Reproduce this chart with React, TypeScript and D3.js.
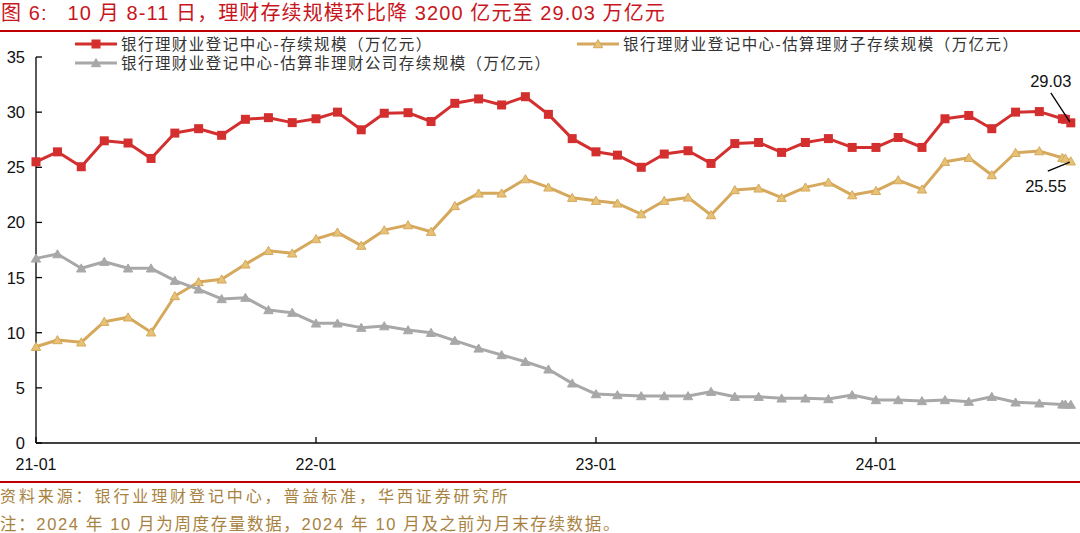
import React from "react";
import * as d3 from "d3";

const months: string[] = [
  "2021-01","2021-02","2021-03","2021-04","2021-05","2021-06","2021-07","2021-08","2021-09","2021-10","2021-11","2021-12",
  "2022-01","2022-02","2022-03","2022-04","2022-05","2022-06","2022-07","2022-08","2022-09","2022-10","2022-11","2022-12",
  "2023-01","2023-02","2023-03","2023-04","2023-05","2023-06","2023-07","2023-08","2023-09","2023-10","2023-11","2023-12",
  "2024-01","2024-02","2024-03","2024-04","2024-05","2024-06","2024-07","2024-08","2024-09",
];
const weeks: string[] = ["2024-10-04", "2024-10-11"];

const totalScale: number[] = [
  25.5, 26.4, 25.05, 27.4, 27.2, 25.8, 28.1, 28.5, 27.9, 29.35, 29.5, 29.05,
  29.4, 30.0, 28.4, 29.9, 29.95, 29.15, 30.8, 31.2, 30.65, 31.4, 29.8, 27.6,
  26.4, 26.1, 25.0, 26.2, 26.5, 25.35, 27.15, 27.25, 26.35, 27.25, 27.6, 26.8,
  26.8, 27.7, 26.8, 29.4, 29.7, 28.5, 30.0, 30.05, 29.4,
  29.35, 29.03,
];
const subsidiaryScale: number[] = [
  8.73, 9.34, 9.13, 11.0, 11.4, 10.04, 13.33, 14.6, 14.84, 16.2, 17.43, 17.2,
  18.5, 19.1, 17.9, 19.3, 19.76, 19.16, 21.5, 22.64, 22.64, 23.93, 23.18, 22.24,
  21.97, 21.73, 20.76, 21.97, 22.27, 20.67, 22.94, 23.09, 22.24, 23.18, 23.63, 22.48,
  22.87, 23.84, 23.0, 25.5, 25.87, 24.3, 26.32, 26.47, 25.87,
  25.8, 25.55,
];
const nonSubsidiaryScale: number[] = [
  16.74, 17.13, 15.84, 16.44, 15.84, 15.84, 14.72, 13.93, 13.06, 13.18, 12.06, 11.82,
  10.85, 10.85, 10.46, 10.6, 10.24, 10.0, 9.28, 8.58, 7.98, 7.37, 6.68, 5.41,
  4.44, 4.35, 4.26, 4.26, 4.26, 4.65, 4.2, 4.2, 4.05, 4.05, 3.99, 4.35,
  3.9, 3.9, 3.81, 3.9, 3.75, 4.2, 3.69, 3.6, 3.5,
  3.5, 3.48,
];

const seriesNames: string[] = [
  "银行理财业登记中心-存续规模（万亿元）",
  "银行理财业登记中心-估算理财子存续规模（万亿元）",
  "银行理财业登记中心-估算非理财公司存续规模（万亿元）",
];
const yTicks: number[] = [0, 5, 10, 15, 20, 25, 30, 35];
const xTickLabels: string[] = ["2021-01", "2022-01", "2023-01", "2024-01"];
const annotations: string[] = ["29.03", "25.55"];

const titleText = "图 6:   10 月 8-11 日，理财存续规模环比降 3200 亿元至 29.03 万亿元";
const sourceText = "资料来源：银行业理财登记中心，普益标准，华西证券研究所";
const noteText = "注：2024 年 10 月为周度存量数据，2024 年 10 月及之前为月末存续数据。";

const W = 1080;
const H = 533;
const FONT = "'Liberation Sans', Arial, 'Noto Sans CJK SC', sans-serif";

const monthEnd = (s: string) => {
  const [y, m] = s.split("-").map(Number);
  return new Date(y, m, 0);
};
const parseDay = d3.timeParse("%Y-%m-%d");
const dates: Date[] = [...months.map(monthEnd), ...weeks.map((w) => parseDay(w) as Date)];

const x = d3.scaleTime().domain([new Date(2021, 0, 31), new Date(2024, 9, 23)]).range([36, 1080]);
const y = d3.scaleLinear().domain([0, 35]).range([443, 57]);

const RED = "#d42f2f";
const GOLD = "#d6a85c";
const GOLD_FILL = "#e6c277";
const GRAY = "#a8a8a8";

type S = { name: string; values: number[]; color: string; fill: string; marker: "square" | "triangle" };
const series: S[] = [
  { name: seriesNames[0], values: totalScale, color: RED, fill: RED, marker: "square" },
  { name: seriesNames[1], values: subsidiaryScale, color: GOLD, fill: GOLD_FILL, marker: "triangle" },
  { name: seriesNames[2], values: nonSubsidiaryScale, color: GRAY, fill: GRAY, marker: "triangle" },
];

const tri = d3.symbol().type(d3.symbolTriangle).size(38)() as string;

function Marker({ s, cx, cy }: { s: S; cx: number; cy: number }) {
  if (s.marker === "square") {
    return <rect x={cx - 4.5} y={cy - 4.5} width={9} height={9} fill={s.fill} />;
  }
  return <path d={tri} transform={`translate(${cx},${cy + 1})`} fill={s.fill} stroke={s.color} strokeWidth={1} />;
}

export default function App() {
  const line = d3
    .line<number>()
    .x((_, i) => x(dates[i]))
    .y((v) => y(v));
  const fmt = d3.timeFormat("%y-%m");
  const tickDates = xTickLabels.map(monthEnd);
  const last = dates.length - 1;
  const redLast = { x: x(dates[last]), y: y(totalScale[last]) };
  const goldLast = { x: x(dates[last]), y: y(subsidiaryScale[last]) };

  return (
    <svg
      width={W}
      height={H}
      style={{ position: "absolute", left: 0, top: 0, background: "#fff" }}
      fontFamily={FONT}
    >
      <rect width={W} height={H} fill="#fff" />
      {/* title */}
      <text x={1} y={20} fontSize={20} fill="#c8161d" letterSpacing={1.1} style={{ whiteSpace: "pre" }}>
        {titleText}
      </text>
      <line x1={0} x2={W} y1={31} y2={31} stroke="#c00000" strokeWidth={2} />

      {/* legend */}
      {[
        { s: series[0], lx: 75, ly: 44 },
        { s: series[1], lx: 577, ly: 44 },
        { s: series[2], lx: 75, ly: 63 },
      ].map(({ s, lx, ly }, i) => (
        <g key={i}>
          <line x1={lx} x2={lx + 42} y1={ly} y2={ly} stroke={s.color} strokeWidth={3} />
          <Marker s={s} cx={lx + 21} cy={ly} />
          <text x={lx + 46} y={ly + 5.5} fontSize={15.5} fill="#333" letterSpacing={1.45}>
            {s.name}
          </text>
        </g>
      ))}

      {/* axes */}
      <line x1={36} x2={36} y1={y(35)} y2={y(0)} stroke="#000" strokeWidth={1.3} />
      <line x1={36} x2={1080} y1={y(0)} y2={y(0)} stroke="#000" strokeWidth={1.3} />
      {yTicks.map((t) => (
        <g key={t}>
          <line x1={36} x2={42} y1={y(t)} y2={y(t)} stroke="#000" strokeWidth={1.3} />
          <text x={25} y={y(t) + 6} fontSize={16.5} textAnchor="end" fill="#111">
            {t}
          </text>
        </g>
      ))}
      {tickDates.map((d, i) => (
        <g key={i}>
          <line x1={x(d)} x2={x(d)} y1={y(0)} y2={y(0) - 6} stroke="#000" strokeWidth={1.3} />
          <text x={x(d)} y={470} fontSize={16} textAnchor="middle" fill="#111">
            {fmt(d)}
          </text>
        </g>
      ))}

      {/* series */}
      {series.map((s, si) => (
        <g key={si}>
          <path d={line(s.values) as string} fill="none" stroke={s.color} strokeWidth={3} strokeLinejoin="round" />
          {s.values.map((v, i) => (
            <Marker key={i} s={s} cx={x(dates[i])} cy={y(v)} />
          ))}
        </g>
      ))}

      {/* annotations */}
      <line x1={redLast.x - 20} y1={redLast.y - 30} x2={redLast.x - 1} y2={redLast.y - 1} stroke="#000" strokeWidth={1.3} />
      <text x={redLast.x - 20} y={redLast.y - 36} fontSize={16.5} textAnchor="middle" fill="#111">
        {annotations[0]}
      </text>
      <line x1={goldLast.x - 23} y1={goldLast.y + 10} x2={goldLast.x - 1} y2={goldLast.y + 1} stroke="#000" strokeWidth={1.3} />
      <text x={goldLast.x - 25} y={goldLast.y + 31} fontSize={16.5} textAnchor="middle" fill="#111">
        {annotations[1]}
      </text>

      {/* footer */}
      <line x1={0} x2={W} y1={482} y2={482} stroke="#c00000" strokeWidth={2} />
      <text x={0} y={502} fontSize={16} fill="#a8823f" letterSpacing={2.9}>
        {sourceText}
      </text>
      <text x={0} y={530} fontSize={16.5} fill="#a8823f" letterSpacing={1.65} style={{ whiteSpace: "pre" }}>
        {noteText}
      </text>
    </svg>
  );
}
